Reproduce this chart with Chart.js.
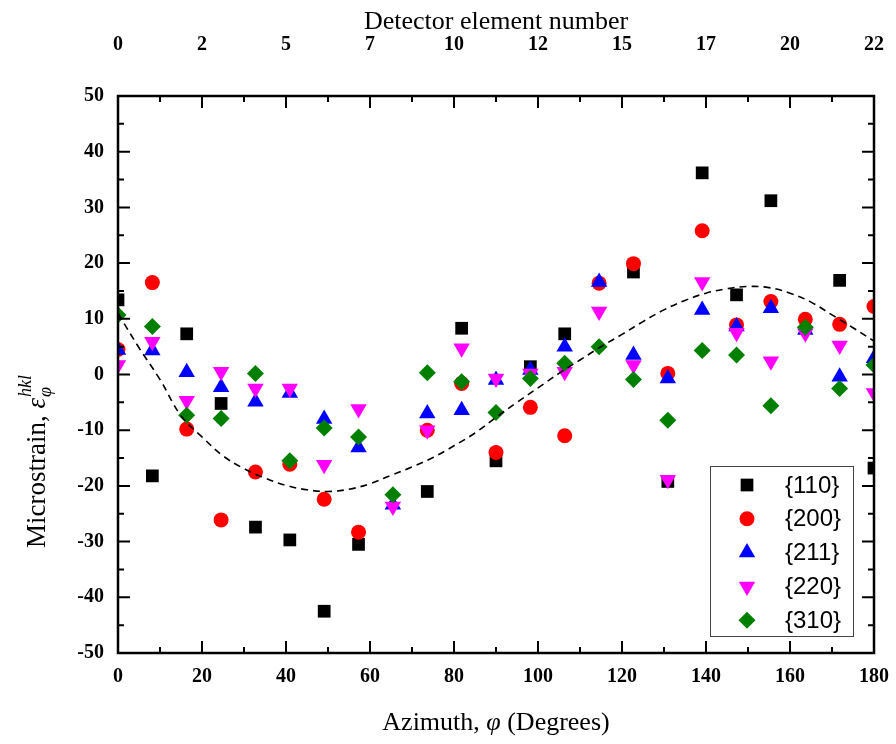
<!DOCTYPE html>
<html>
<head>
<meta charset="utf-8">
<script src="https://cdn.jsdelivr.net/npm/chart.js@4.4.1/dist/chart.umd.min.js"></script>
<style>
  body { margin: 0; background: #fff; }
</style>
</head>
<body>
<canvas id="strainChart" width="896" height="744"></canvas>
<script>
// azimuth of each detector element (degrees)
const azimuth = [0, 8.18, 16.36, 24.55, 32.73, 40.91, 49.09, 57.27, 65.45, 73.64, 81.82, 90,
                 98.18, 106.36, 114.55, 122.73, 130.91, 139.09, 147.27, 155.45, 163.64, 171.82, 180];

const seriesNames = ['{110}', '{200}', '{211}', '{220}', '{310}'];
const s110 = [13.4, -18.2, 7.3, -5.2, -27.4, -29.7, -42.5, -30.5, null, -21.0, 8.3, -15.5,
              1.4, 7.3, null, 18.4, -19.2, 36.2, 14.3, 31.2, null, 16.9, -16.8];
const s200 = [4.5, 16.5, -9.8, -26.1, -17.5, -16.1, -22.4, -28.3, null, -10.0, -1.6, -14.0,
              -5.9, -11.0, 16.4, 19.9, 0.2, 25.8, 8.9, 13.1, 9.9, 9.0, 12.2];
const s211 = [4.4, 4.3, 0.4, -2.3, -4.9, -3.3, -8.0, -13.1, -23.4, -7.0, -6.4, -1.0,
              0.8, 5.0, 16.6, 3.5, -0.7, 11.6, 8.6, 11.9, 8.0, -0.4, 2.9];
const s220 = [1.7, 5.9, -4.7, 0.5, -2.5, -2.5, -16.2, -6.2, -23.7, -10.0, 4.7, -0.7,
              0.2, 0.5, 11.3, 1.7, -18.9, 16.6, 7.5, 2.4, 7.4, 5.2, -3.3];
const s310 = [10.7, 8.6, -7.3, -7.9, 0.2, -15.5, -9.6, -11.2, -21.6, 0.3, -1.3, -6.8,
              -0.7, 2.0, 5.0, -0.9, -8.2, 4.3, 3.5, -5.6, 8.5, -2.5, 1.7];

// dashed fit curve
const fitX = [0, 5, 10, 15, 20, 25, 30, 35, 40, 45, 50, 55, 60, 65, 70, 75, 80, 85, 90,
              95, 100, 105, 110, 115, 120, 125, 130, 135, 140, 145, 150, 155, 160, 165, 170, 175, 180];
const fitY = [11.0, 4.8, -0.9, -7.4, -11.2, -14.6, -16.9, -18.6, -19.9, -20.7, -21.0, -20.6,
              -19.6, -18.1, -16.6, -14.9, -12.8, -10.5, -7.7, -5.0, -2.4, 0.2, 2.6, 5.0, 7.2,
              9.5, 11.6, 13.3, 14.6, 15.4, 15.8, 15.6, 14.6, 13.0, 10.7, 8.4, 6.0];

const topTickLabels = ['0', '2', '5', '7', '10', '12', '15', '17', '20', '22'];

const colors = ['#000000', '#ff0000', '#0000ff', '#ff00ff', '#007f00'];
const styles = [
  { pointStyle: 'rect', rotation: 0, radius: 9 },
  { pointStyle: 'circle', rotation: 0, radius: 7.5 },
  { pointStyle: 'triangle', rotation: 0, radius: 9.5 },
  { pointStyle: 'triangle', rotation: 180, radius: 9.5 },
  { pointStyle: 'rectRot', rotation: 0, radius: 8.5 }
];

const serif = "'Liberation Serif', 'Times New Roman', serif";

function pts(ys) {
  return azimuth.map((x, i) => ({ x: x, y: ys[i] }));
}

const allSeries = [s110, s200, s211, s220, s310];
const datasets = allSeries.map((ys, i) => ({
  type: 'scatter',
  label: seriesNames[i],
  data: pts(ys),
  backgroundColor: colors[i],
  borderWidth: 0,
  pointStyle: styles[i].pointStyle,
  rotation: styles[i].rotation,
  pointRadius: styles[i].radius,
  order: 5 - i
}));

datasets.push({
  type: 'line',
  label: 'fit',
  data: fitX.map((x, i) => ({ x: x, y: fitY[i] })),
  borderColor: '#000',
  borderWidth: 1.6,
  borderDash: [7, 5],
  pointRadius: 0,
  tension: 0.4,
  fill: false,
  order: -1
});

// frame + inward ticks
const frameTicks = {
  id: 'frameTicks',
  afterDraw(chart) {
    const { ctx, chartArea: a, scales } = chart;
    ctx.save();
    ctx.strokeStyle = '#000';
    ctx.lineWidth = 2;
    ctx.beginPath();
    for (let v = 0; v <= 180; v += 10) {
      const px = scales.x.getPixelForValue(v);
      const len = v % 20 === 0 ? 12 : 6;
      ctx.moveTo(px, a.bottom); ctx.lineTo(px, a.bottom - len);
      ctx.moveTo(px, a.top); ctx.lineTo(px, a.top + len);
    }
    for (let v = -50; v <= 50; v += 5) {
      const py = scales.y.getPixelForValue(v);
      const len = v % 10 === 0 ? 12 : 6;
      ctx.moveTo(a.left, py); ctx.lineTo(a.left + len, py);
      ctx.moveTo(a.right, py); ctx.lineTo(a.right - len, py);
    }
    ctx.stroke();
    ctx.lineWidth = 2.5;
    ctx.strokeRect(a.left, a.top, a.right - a.left, a.bottom - a.top);
    ctx.restore();
  }
};

// axis titles with italic symbols and sub/superscripts
const axisTitles = {
  id: 'axisTitles',
  afterDraw(chart) {
    const { ctx, chartArea: a } = chart;
    ctx.save();
    ctx.fillStyle = '#000';
    ctx.textBaseline = 'middle';
    ctx.textAlign = 'left';

    // bottom title: Azimuth, φ (Degrees)
    const parts = [
      ['Azimuth, ', ''], ['φ', 'italic '], [' (Degrees)', '']
    ];
    let total = 0;
    parts.forEach(p => { ctx.font = p[1] + '26px ' + serif; total += ctx.measureText(p[0]).width; });
    let x = (a.left + a.right) / 2 - total / 2;
    parts.forEach(p => {
      ctx.font = p[1] + '26px ' + serif;
      ctx.fillText(p[0], x, 723);
      x += ctx.measureText(p[0]).width;
    });

    // left title: Microstrain, ε_φ^hkl
    ctx.translate(38, 548);
    ctx.rotate(-Math.PI / 2);
    ctx.font = '27px ' + serif;
    const main = 'Microstrain, ';
    ctx.fillText(main, 0, 0);
    x = ctx.measureText(main).width;
    ctx.font = 'italic 27px ' + serif;
    ctx.fillText('ε', x, 0);
    x += ctx.measureText('ε').width + 1;
    ctx.font = 'italic 18px ' + serif;
    ctx.fillText('φ', x, 8);
    ctx.fillText('hkl', x, -12);
    ctx.restore();
  }
};

// legend box inside plot
const boxLegend = {
  id: 'boxLegend',
  afterDraw(chart) {
    const { ctx, chartArea: a } = chart;
    const bx = a.right - 164, by = a.bottom - 187, bw = 143, bh = 170;
    ctx.save();
    ctx.strokeStyle = '#444';
    ctx.lineWidth = 1;
    ctx.strokeRect(bx + 0.5, by + 0.5, bw, bh);
    seriesNames.forEach((name, i) => {
      const y = by + 19 + i * 33.8;
      ctx.fillStyle = colors[i];
      Chart.helpers.drawPoint(ctx, {
        pointStyle: styles[i].pointStyle,
        rotation: styles[i].rotation,
        radius: styles[i].radius,
        borderWidth: 0
      }, bx + 37, y);
      ctx.fillStyle = '#000';
      ctx.font = "24px 'Liberation Sans', Arial, sans-serif";
      ctx.textAlign = 'left';
      ctx.textBaseline = 'middle';
      ctx.fillText(name, bx + 75, y + 1);
    });
    ctx.restore();
  }
};

const tickFont = { family: serif, size: 20, weight: 'bold' };

function fixHorizontal(h) {
  return function (scale) {
    scale.height = h;
    scale.paddingLeft = 0;
    scale.paddingRight = 0;
  };
}

new Chart(document.getElementById('strainChart'), {
  data: { datasets: datasets },
  options: {
    responsive: false,
    animation: false,
    layout: { padding: 0 },
    plugins: {
      legend: { display: false },
      tooltip: { enabled: false }
    },
    scales: {
      x: {
        type: 'linear',
        position: 'bottom',
        min: 0, max: 180,
        grid: { display: false, drawTicks: false },
        border: { display: false },
        ticks: { stepSize: 20, font: tickFont, color: '#000', padding: 12, maxRotation: 0 },
        afterFit: fixHorizontal(91)
      },
      x2: {
        type: 'linear',
        position: 'top',
        min: 0, max: 180,
        grid: { display: false, drawTicks: false },
        border: { display: false },
        ticks: {
          stepSize: 20, font: tickFont, color: '#000', padding: 39, maxRotation: 0,
          callback: (v) => topTickLabels[Math.round(v / 20)]
        },
        title: {
          display: true,
          text: 'Detector element number',
          font: { family: serif, size: 26 },
          color: '#000',
          padding: { top: 7, bottom: 0 }
        },
        afterFit: fixHorizontal(96)
      },
      y: {
        type: 'linear',
        position: 'left',
        min: -50, max: 50,
        grid: { display: false, drawTicks: false },
        border: { display: false },
        ticks: { stepSize: 10, font: tickFont, color: '#000', padding: 14 },
        afterFit(scale) { scale.width = 118; scale.paddingTop = 0; scale.paddingBottom = 0; }
      },
      y2: {
        type: 'linear',
        position: 'right',
        min: -50, max: 50,
        grid: { display: false, drawTicks: false },
        border: { display: false },
        ticks: { display: false },
        afterFit(scale) { scale.width = 22; }
      }
    }
  },
  plugins: [frameTicks, axisTitles, boxLegend]
});
</script>
</body>
</html>
